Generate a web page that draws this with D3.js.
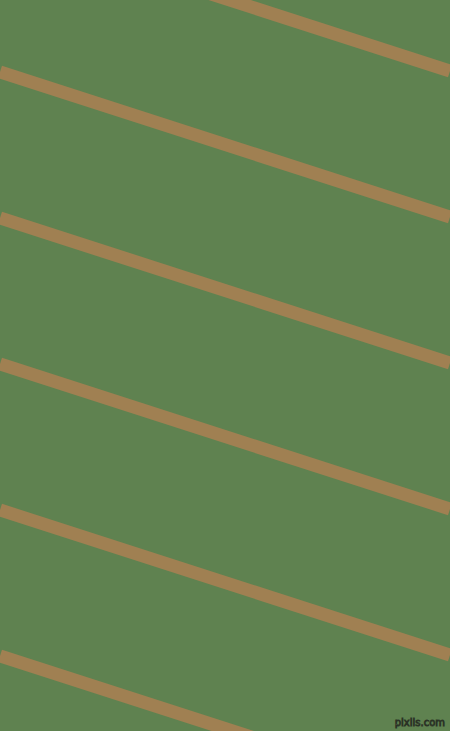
<!DOCTYPE html>
<html>
<head>
<meta charset="utf-8">
<script src="https://cdn.jsdelivr.net/npm/d3@7"></script>
<style>
  html, body { margin: 0; padding: 0; background: #5f8250; overflow: hidden; }
  svg { display: block; }
</style>
</head>
<body>
<div id="chart"></div>
<script>
// stripe positions: height where each stripe meets the left and right edge
var stripeLeft = [-74, 72, 218, 364, 510, 656]
var stripeRight = [71, 217, 363, 509, 655, 801]
var edges = [0, 450]

var width = 450
var height = 731

var x = d3.scaleLinear().domain([0, 450]).range([0, width])
var y = d3.scaleLinear().domain([0, 731]).range([0, height])

var svg = d3.select('#chart').append('svg')
  .attr('width', width)
  .attr('height', height)
  .attr('viewBox', '0 0 ' + width + ' ' + height)

svg.append('rect')
  .attr('class', 'bg')
  .attr('width', width)
  .attr('height', height)
  .attr('fill', '#5f8250')

var line = d3.line()
  .x(function (d) { return x(d[0]) })
  .y(function (d) { return y(d[1]) })

var stripes = stripeLeft.map(function (l, i) {
  return [[edges[0], l], [edges[1], stripeRight[i]]]
})

svg.append('g').attr('class', 'data')
  .selectAll('path')
  .data(stripes)
  .enter().append('path')
  .attr('d', line)
  .attr('fill', 'none')
  .attr('stroke', '#a08052')
  .attr('stroke-width', 13)

// watermark: outlined text
svg.append('text')
  .attr('x', width - 5)
  .attr('y', height - 5)
  .attr('text-anchor', 'end')
  .attr('font-family', 'DejaVu Sans, sans-serif')
  .attr('font-size', 10)
  .attr('stroke', '#2a3325')
  .attr('stroke-width', 0.9)
  .attr('fill', '#7d9170')
  .text('pixlis.com')
</script>
</body>
</html>
